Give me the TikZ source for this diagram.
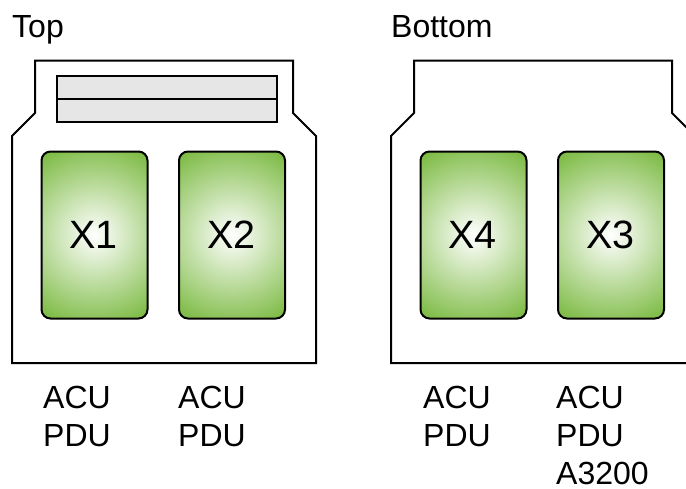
\documentclass[tikz,border=0pt]{standalone}
\usepackage{fontspec}
\setmainfont{Liberation Sans}
\definecolor{chipgreen}{HTML}{76B73A}
\definecolor{bargray}{HTML}{E6E6E6}
\newcommand{\chiptext}[1]{\hspace*{-1.5pt}\raisebox{-3.5pt}{#1}}
\tikzset{
  px/.style={x=1pt,y=-1pt},
  outline/.style={draw=black,line width=2pt,line join=miter,fill=white},
  chip/.style={draw=black,line width=2pt,rounded corners=9pt,minimum width=106pt,minimum height=167pt,inner sep=0pt,
    path picture={\shade[inner color=white,outer color=chipgreen] (path picture bounding box.center) circle (100pt);},
    font=\fontsize{39.5}{42}\selectfont},
  bar/.style={draw=black,line width=2pt,fill=bargray,minimum width=220pt,minimum height=23pt,inner sep=0pt},
  lbl/.style={anchor=base west,font=\fontsize{32}{34}\selectfont,inner sep=0pt},
  note/.style={anchor=north west,align=left,font=\fontsize{32}{38.4}\selectfont,inner sep=0pt}
}
\begin{document}
\begin{tikzpicture}[px]
\useasboundingbox (0,0) rectangle (686,488);
\fill[white] (0,0) rectangle (686,488);
\node[lbl] (top) at (12,37) {Top};
\node[lbl] (bottom) at (391,37) {Bottom};
\draw[outline] (35,60.5) -- (293,60.5) -- (293,113) -- (316,136) -- (316,363) -- (12,363) -- (12,136) -- (35,113) -- cycle;
\draw[outline] (414,60.5) -- (672,60.5) -- (672,113) -- (695,136) -- (695,363) -- (391,363) -- (391,136) -- (414,113) -- cycle;
\node[bar] (b1) at (167,87) {};
\node[bar] (b2) at (167,110) {};
\node[chip] (x1) at (94.5,235) {\chiptext{X1}};
\node[chip] (x2) at (232,235) {\chiptext{X2}};
\node[chip] (x4) at (473.5,235) {\chiptext{X4}};
\node[chip] (x3) at (611,235) {\chiptext{X3}};
\node[note] (n1) at (43,385.5) {ACU\\PDU};
\node[note] (n2) at (178,385.5) {ACU\\PDU};
\node[note] (n3) at (423,385.5) {ACU\\PDU};
\node[note] (n4) at (556,385.5) {ACU\\PDU\\A3200};
\end{tikzpicture}
\end{document}
